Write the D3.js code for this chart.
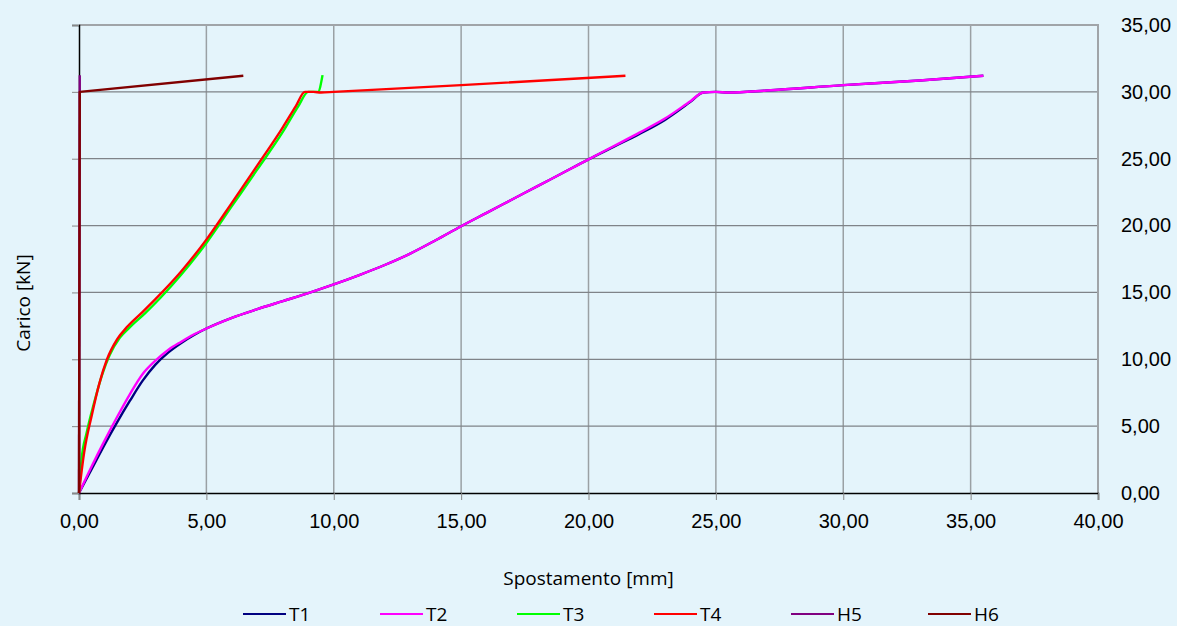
<!DOCTYPE html>
<html>
<head>
<meta charset="utf-8">
<script src="https://cdn.jsdelivr.net/npm/d3@7/dist/d3.min.js"></script>
<style>
  html, body { margin: 0; padding: 0; background: #e4f4fb; }
  svg { display: block; font-family: "Open Sans", "Noto Sans", sans-serif; }
</style>
</head>
<body>
<svg id="chart" width="1177" height="626"></svg>
<script>
// Load–displacement curves (displacement mm, load kN)
const seriesNames = ["T1", "T2", "T3", "T4", "H5", "H6"];
const seriesColors = ["#000080", "#ff00ff", "#00ff00", "#ff0000", "#800080", "#800000"];

const T1 = [[0,0],[0.5,1.8],[1.0,3.6],[1.5,5.3],[2.0,6.9],[2.5,8.4],[3.0,9.6],[3.5,10.5],[4.0,11.2],
  [4.5,11.8],[5.0,12.3],[6.0,13.1],[7.0,13.75],[8.0,14.35],[9.0,14.95],[10.0,15.6],[11.0,16.3],
  [12.0,17.05],[13.0,17.9],[14.0,18.9],[15.0,19.95],[16.0,20.95],[17.0,21.95],[18.0,22.95],
  [19.0,23.95],[20.0,24.95],[21.0,25.9],[22.0,26.85],[23.0,27.9],[24.0,29.25],[24.5,29.95],
  [25.0,30.0],[25.5,29.95],[27.0,30.1],[30.0,30.5],[33.0,30.85],[35.5,31.2]];
const T2 = [[0,0],[0.5,2.0],[1.0,3.9],[1.5,5.7],[2.0,7.4],[2.5,8.9],[3.0,9.9],[3.5,10.7],[4.0,11.3],
  [4.5,11.85],[5.0,12.3],[6.0,13.1],[7.0,13.75],[8.0,14.35],[9.0,14.95],[10.0,15.6],[11.0,16.3],
  [12.0,17.05],[13.0,17.9],[14.0,18.9],[15.0,19.95],[16.0,20.95],[17.0,21.95],[18.0,22.95],
  [19.0,23.95],[20.0,24.95],[21.0,25.95],[22.0,26.95],[23.0,28.0],[24.0,29.3],[24.5,29.95],
  [25.0,30.0],[25.5,29.95],[27.0,30.1],[30.0,30.5],[33.0,30.85],[35.5,31.2]];
const T3 = [[0,0],[0.1,2.5],[0.3,4.5],[0.6,6.8],[0.9,8.8],[1.2,10.3],[1.6,11.6],[2.0,12.4],[2.6,13.45],
  [3.2,14.6],[4.0,16.3],[5.0,18.7],[6.0,21.45],[7.0,24.2],[8.0,27.0],[8.6,28.9],[9.0,30.0],
  [9.38,30.0],[9.56,31.25]];
const T4 = [[0,0],[0.2,3.0],[0.5,5.8],[0.8,8.2],[1.1,10.0],[1.5,11.5],[1.9,12.45],[2.5,13.55],[3.0,14.5],
  [4.0,16.55],[5.0,18.95],[6.0,21.7],[7.0,24.5],[8.0,27.35],[8.5,28.9],[8.87,30.0],[9.2,30.0],
  [9.5,29.95],[10.0,30.0],[15.0,30.5],[21.45,31.2]];
const H5 = [[0,0],[0.03,31.25]];
const H6 = [[0,0],[0.03,30.0],[6.45,31.2]];
const seriesData = [T1, T2, T3, T4, H5, H6];

const xTicks = [0, 5, 10, 15, 20, 25, 30, 35, 40];
const yTicks = [0, 5, 10, 15, 20, 25, 30, 35];
const xTitle = "Spostamento [mm]";
const yTitle = "Carico [kN]";

const fmt = d3.formatLocale({decimal: ",", thousands: ".", grouping: [3], currency: ["", "€"]}).format(".2f");

const svg = d3.select("#chart");
const m = {left: 79, right: 1098, top: 25, bottom: 493};
const x = d3.scaleLinear().domain([0, 40]).range([m.left, m.right]);
const y = d3.scaleLinear().domain([0, 35]).range([m.bottom, m.top]);

// grid
const grid = svg.append("g");
grid.selectAll(".vg").data(xTicks.slice(1)).join("line")
  .attr("x1", d => x(d)).attr("x2", d => x(d)).attr("y1", m.top).attr("y2", m.bottom)
  .attr("stroke", "#9aa0a4").attr("stroke-width", 1.5);
grid.selectAll(".hg").data(yTicks.slice(1)).join("line")
  .attr("x1", m.left).attr("x2", m.right).attr("y1", d => y(d)).attr("y2", d => y(d))
  .attr("stroke", d => d === 35 ? "#a0a4a8" : "#7f8388")
  .attr("stroke-width", d => d === 35 ? 2 : 1.2);
// right border
grid.append("line").attr("x1", m.right).attr("x2", m.right).attr("y1", m.top - 1).attr("y2", m.bottom)
  .attr("stroke", "#a0a4a8").attr("stroke-width", 2);

// axes
const xAxis = svg.append("g").attr("transform", `translate(0,${m.bottom})`)
  .call(d3.axisBottom(x).tickValues(xTicks).tickFormat(fmt).tickSize(7).tickPadding(14));
xAxis.select(".domain").attr("stroke", "#000").attr("stroke-width", 1.5);
xAxis.selectAll(".tick line").attr("stroke", "#888");
xAxis.selectAll("text").attr("font-size", 20).attr("fill", "#000");

const yAxisL = svg.append("g").attr("transform", `translate(${m.left},0)`)
  .call(d3.axisLeft(y).tickValues(yTicks).tickFormat("").tickSize(7));
yAxisL.select(".domain").attr("stroke", "#000").attr("stroke-width", 1.5);
yAxisL.selectAll(".tick line").attr("stroke", "#888");

const yAxisR = svg.append("g").attr("transform", `translate(${m.right},0)`)
  .call(d3.axisRight(y).tickValues(yTicks).tickFormat(fmt).tickSize(0).tickPadding(23));
yAxisR.select(".domain").remove();
yAxisR.selectAll("text").attr("font-size", 20).attr("fill", "#000");

// curves
const line = d3.line().x(d => x(d[0])).y(d => y(d[1])).curve(d3.curveMonotoneX);
const lineStraight = d3.line().x(d => x(d[0])).y(d => y(d[1]));
svg.append("g").selectAll("path").data(seriesData).join("path")
  .attr("d", (d, i) => (i >= 4 ? lineStraight(d) : line(d)))
  .attr("fill", "none")
  .attr("stroke", (d, i) => seriesColors[i])
  .attr("stroke-width", 2.4)
  .attr("stroke-linejoin", "round");

// titles
svg.append("text").attr("x", (m.left + m.right) / 2).attr("y", 585)
  .attr("text-anchor", "middle").attr("font-size", 19).text(xTitle);
svg.append("text").attr("transform", "translate(30,303) rotate(-90)")
  .attr("text-anchor", "middle").attr("font-size", 19).text(yTitle);

// legend
const leg = svg.append("g").selectAll("g").data(seriesNames).join("g")
  .attr("transform", (d, i) => `translate(${243 + i * 137},614)`);
leg.append("line").attr("x1", 0).attr("x2", 43).attr("y1", 0).attr("y2", 0)
  .attr("stroke", (d, i) => seriesColors[i]).attr("stroke-width", 2);
leg.append("text").attr("x", 46).attr("y", 0).attr("dy", "0.35em").attr("font-size", 19).text(d => d);
</script>
</body>
</html>
